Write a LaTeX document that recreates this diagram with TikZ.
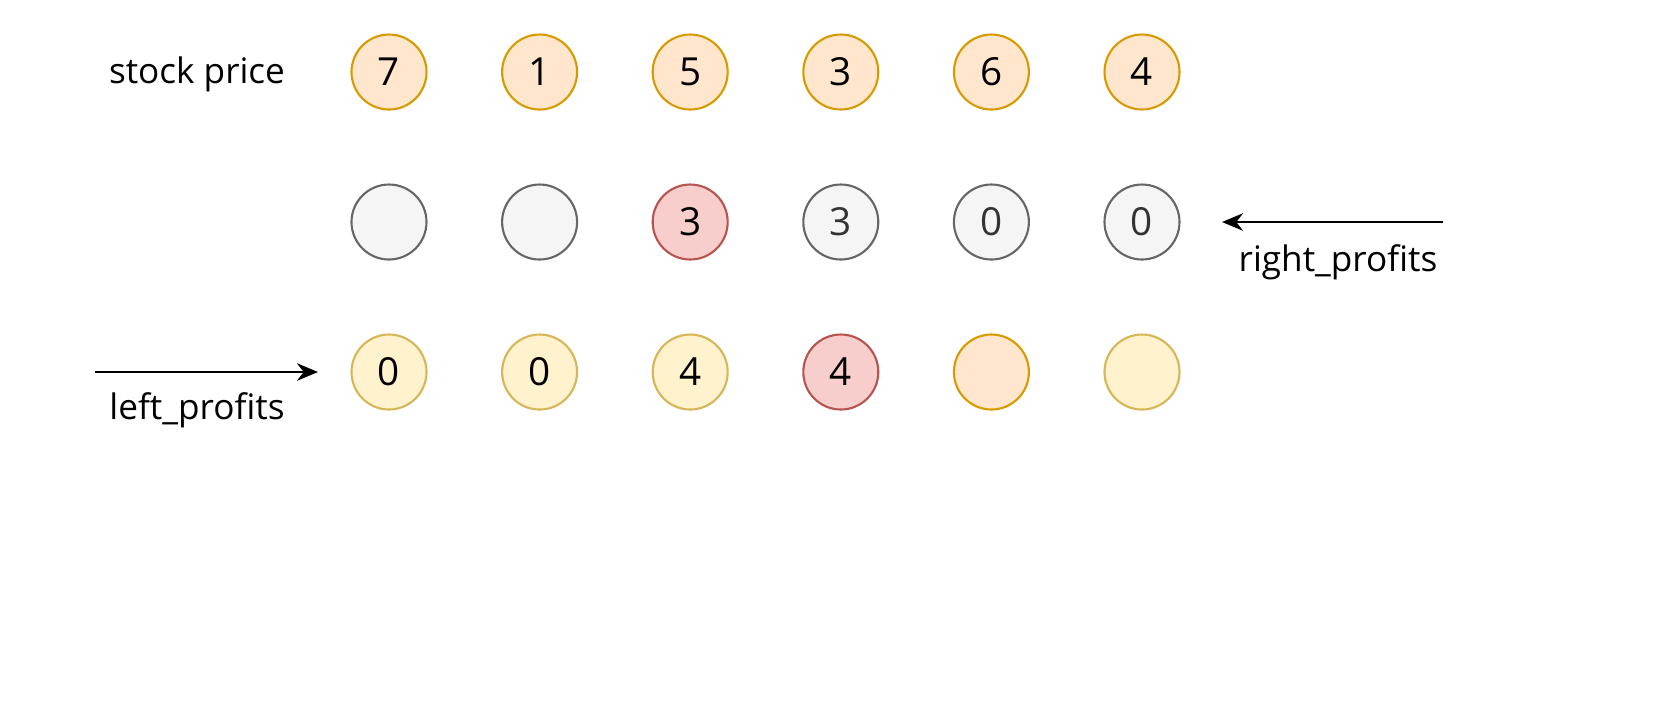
\documentclass[tikz,border=0pt]{standalone}
\usepackage{fontspec}
\setmainfont{Open Sans}
\usepackage{tikz}
\usetikzlibrary{positioning,arrows.meta}
\definecolor{orangefill}{HTML}{FFE6CC}
\definecolor{orangeline}{HTML}{D79B00}
\definecolor{yellowfill}{HTML}{FFF2CC}
\definecolor{yellowline}{HTML}{D6B656}
\definecolor{redfill}{HTML}{F8CECC}
\definecolor{redline}{HTML}{B85450}
\definecolor{grayfill}{HTML}{F5F5F5}
\definecolor{grayline}{HTML}{666666}
\definecolor{graytext}{HTML}{333333}
\begin{document}
\begin{tikzpicture}[node distance=1.506cm,on grid,font=\fontsize{11}{13}\selectfont,
    ball/.style = {circle,draw,line width=0.6pt,minimum size=0.75cm,inner sep=0pt},
    price/.style = {ball,fill=orangefill,draw=orangeline},
    yel/.style = {ball,fill=yellowfill,draw=yellowline},
    hot/.style = {ball,fill=redfill,draw=redline},
    grey/.style = {ball,fill=grayfill,draw=grayline,text=graytext},
    tag/.style = {font=\fontsize{10}{12}\selectfont},
    flow/.style = {-{Stealth[length=6pt,width=5pt]},line width=0.6pt}]
        \useasboundingbox (0,0) rectangle (16.74,-7);
        \node[price] (price1) at (3.89,-0.72) {7};
        \node[price] (price2) [right of=price1] {1};
        \node[price] (price3) [right of=price2] {5};
        \node[price] (price4) [right of=price3] {3};
        \node[price] (price5) [right of=price4] {6};
        \node[price] (price6) [right of=price5] {4};
        \node[tag] (stock) at (1.97,-0.74) {stock price};

        \node[grey] (right1) [below of=price1,node distance=1.5cm] {};
        \node[grey] (right2) [right of=right1] {};
        \node[hot] (right3) [right of=right2] {3};
        \node[grey] (right4) [right of=right3] {3};
        \node[grey] (right5) [right of=right4] {0};
        \node[grey] (right6) [right of=right5] {0};

        \node[yel] (left1) [below of=right1,node distance=1.5cm] {0};
        \node[yel] (left2) [right of=left1] {0};
        \node[yel] (left3) [right of=left2] {4};
        \node[hot] (left4) [right of=left3] {4};
        \node[price] (left5) [right of=left4] {};
        \node[yel] (left6) [right of=left5] {};

        \coordinate (rstart) at (14.43,-2.22);
        \coordinate (rend) at (12.22,-2.22);
        \coordinate (lstart) at (0.95,-3.72);
        \coordinate (lend) at (3.18,-3.72);
        \draw[flow] (rstart) -- (rend);
        \draw[flow] (lstart) -- (lend);
        \node[tag] (rlabel) at (13.38,-2.62) {right\_profits};
        \node[tag] (llabel) at (1.97,-4.1) {left\_profits};
    \end{tikzpicture}
\end{document}
